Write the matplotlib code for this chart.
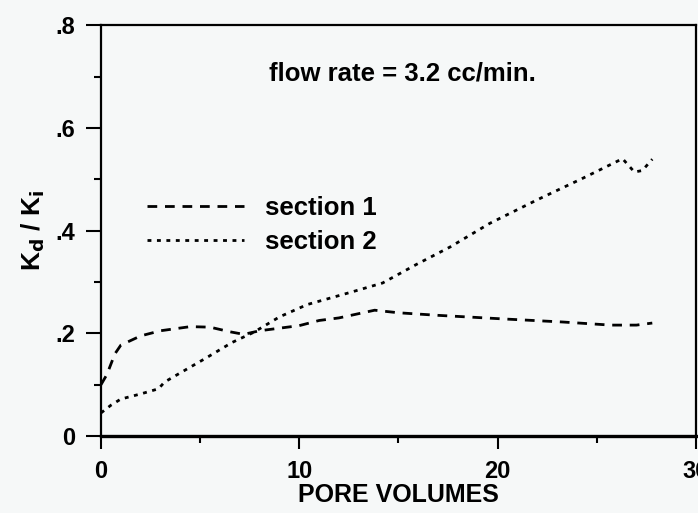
import matplotlib
matplotlib.use("Agg")
import matplotlib.pyplot as plt

# section 1 (dashed)
pv_s1 = [0, 0.3, 0.7, 1.0, 2.0, 3.0, 4.5, 5.5, 6.5, 7.2, 8.0, 9.0, 10.0, 11.0, 12.0,
         13.8, 15.0, 17.0, 20.3, 23.3, 25.7, 27.0, 27.8]
kd_s1 = [0.10, 0.12, 0.16, 0.177, 0.195, 0.205, 0.213, 0.212, 0.203, 0.198, 0.205, 0.21,
         0.215, 0.225, 0.23, 0.245, 0.24, 0.235, 0.228, 0.222, 0.216, 0.216, 0.22]

# section 2 (dotted)
pv_s2 = [0, 0.5, 1.0, 2.0, 2.9, 3.2, 4.0, 5.3, 6.6, 7.7, 9.0, 10.4, 11.5, 12.6, 14.2,
         15.9, 17.6, 19.6, 22.0, 24.3, 26.3, 26.9, 27.3, 27.8]
kd_s2 = [0.045, 0.06, 0.072, 0.082, 0.092, 0.105, 0.123, 0.152, 0.182, 0.202, 0.232, 0.256,
         0.268, 0.28, 0.298, 0.334, 0.368, 0.414, 0.46, 0.502, 0.54, 0.514, 0.517, 0.539]

x_ticks = [0, 10, 20, 30]
x_ticklabels = ["0", "10", "20", "30"]
y_ticks = [0, 0.2, 0.4, 0.6, 0.8]
y_ticklabels = ["0", ".2", ".4", ".6", ".8"]

plt.rcParams['font.family'] = ['Liberation Sans', 'DejaVu Sans']
plt.rcParams['font.weight'] = 'bold'
plt.rcParams['mathtext.default'] = 'bf'

bg = '#f6f8f8'
fig = plt.figure(figsize=(6.98, 5.13), dpi=100, facecolor=bg)
ax = fig.add_axes([0.1447, 0.150, 0.8523, 0.801])
ax.set_facecolor(bg)

ax.plot(pv_s1, kd_s1, color='black', lw=2, dashes=(3.5, 2.8), label='section 1')
ax.plot(pv_s2, kd_s2, color='black', lw=2, dashes=(1.4, 2.0), label='section 2')

ax.set_xlim(0, 30)
ax.set_ylim(0, 0.8)
ax.set_xticks(x_ticks)
ax.set_xticklabels(x_ticklabels)
ax.set_yticks(y_ticks)
ax.set_yticklabels(y_ticklabels)
ax.set_xticks([5, 15, 25], minor=True)
ax.set_yticks([0.1, 0.3, 0.5, 0.7], minor=True)
ax.tick_params(axis='x', which='major', direction='out', length=9.5, width=1.5, labelsize=17, pad=8)
ax.tick_params(axis='y', which='major', direction='out', length=10.5, width=1.5, labelsize=17, pad=8)
ax.tick_params(which='minor', direction='out', length=5, width=1.5)
for sp in ax.spines.values():
    sp.set_linewidth(1.6)
ax.spines['bottom'].set_linewidth(2.4)

ax.set_xlabel("PORE VOLUMES", fontsize=18, fontweight='bold', labelpad=0)
ax.set_ylabel("K$_d$ / K$_i$", fontsize=19, fontweight='bold', labelpad=6)

ax.text(0.506, 0.883, "flow rate = 3.2 cc/min.", transform=ax.transAxes,
        ha='center', va='center', fontsize=18.5, fontweight='bold')

ax.legend(loc='center left', bbox_to_anchor=(0.077, 0.513), frameon=False,
          borderpad=0, borderaxespad=0,
          handlelength=3.8, handletextpad=0.8, labelspacing=0.38,
          prop={'size': 18.5, 'weight': 'bold'})

fig.savefig("out.png", dpi=100, facecolor=fig.get_facecolor())
